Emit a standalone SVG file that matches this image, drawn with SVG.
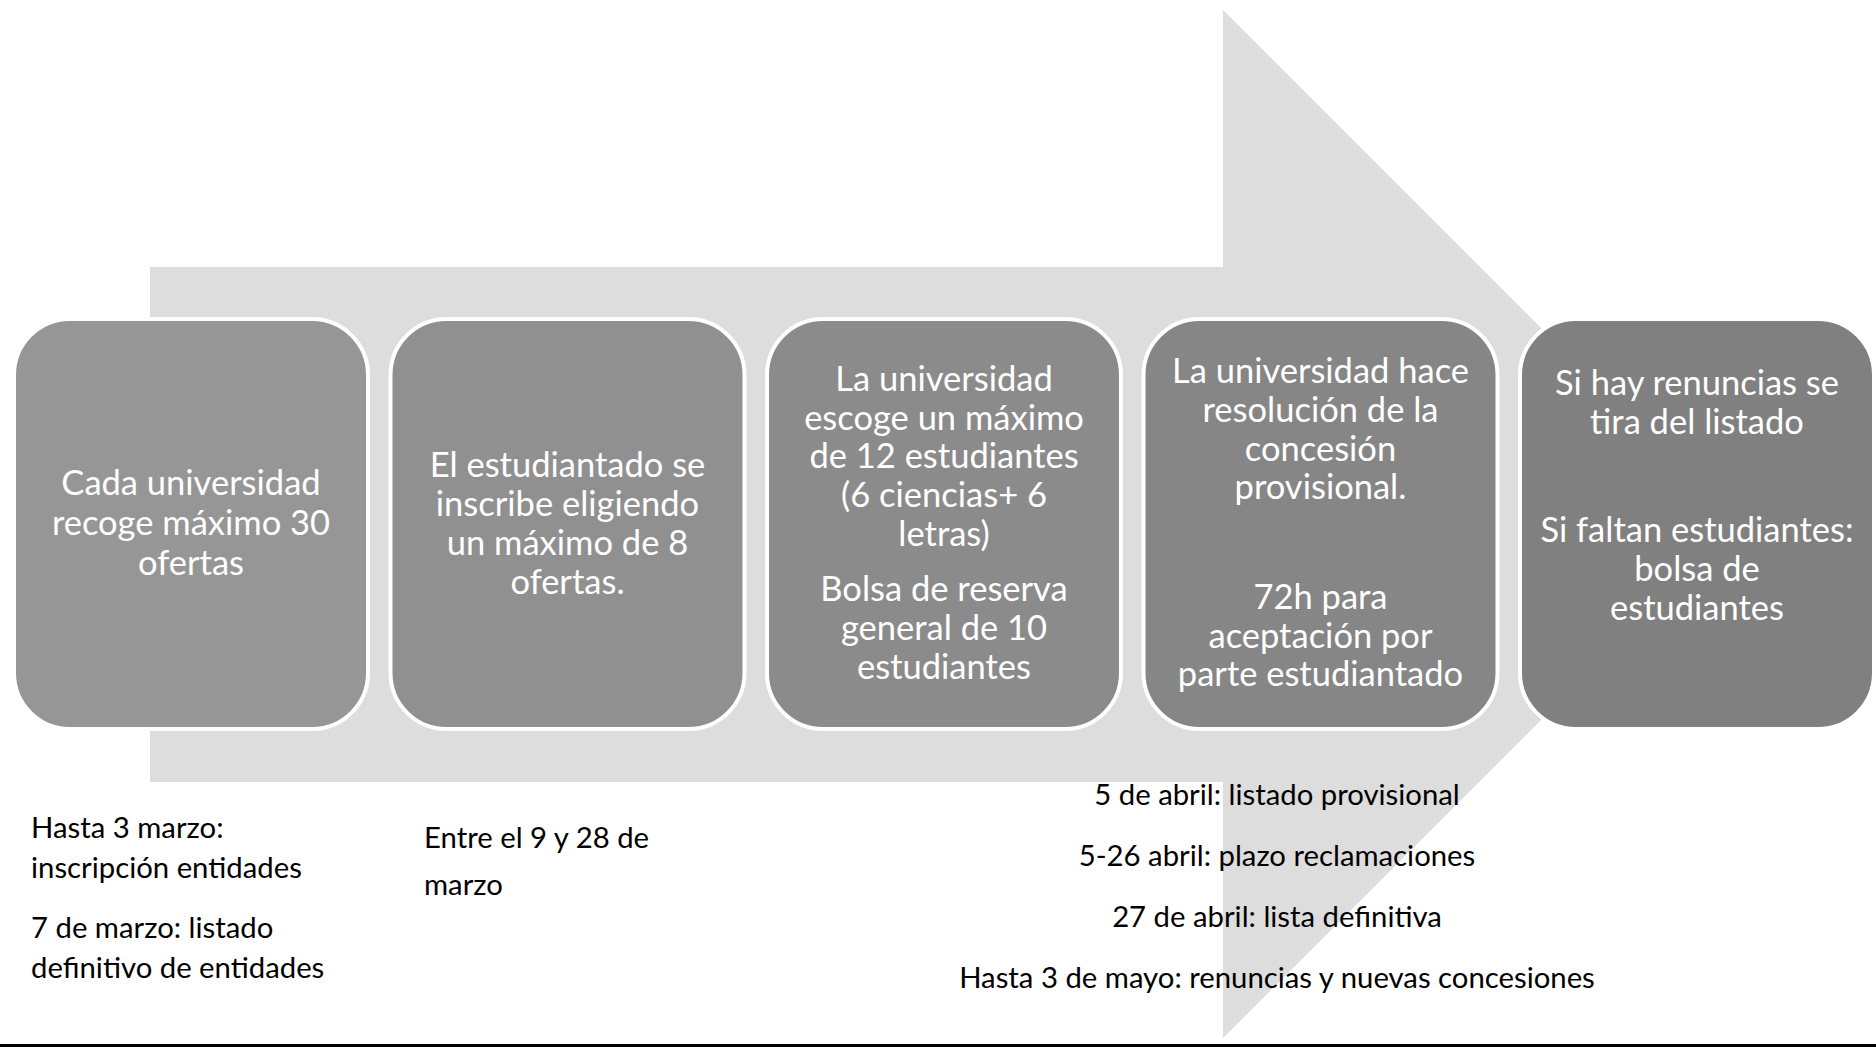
<svg xmlns="http://www.w3.org/2000/svg" width="1876" height="1049" viewBox="0 0 1876 1049">
<style>
.box{stroke:#ffffff;stroke-width:4}
.bt{font-family:Lato,"Liberation Sans",sans-serif;font-size:34.5px;fill:#ffffff;text-anchor:middle}
.lt{font-family:Lato,"Liberation Sans",sans-serif;font-size:29.3px;fill:#000000}
.ct{text-anchor:middle}
</style>
<rect x="0" y="0" width="1876" height="1049" fill="#ffffff"/>
<g id="arrow">
<polygon points="150,267 1223,267 1223,10 1737,524 1223,1038 1223,782 150,782" fill="#dddddd"/>
</g>
<g id="connectors"></g>
<g id="node1">
<rect class="box" x="14" y="319" width="354" height="410" rx="56" fill="#969696"/>
<text class="bt" x="191" y="495">Cada universidad</text>
<text class="bt" x="191" y="535">recoge máximo 30</text>
<text class="bt" x="191" y="575">ofertas</text>
</g>
<g id="node2">
<rect class="box" x="390.5" y="319" width="354" height="410" rx="56" fill="#909090"/>
<text class="bt" x="567.5" y="477">El estudiantado se</text>
<text class="bt" x="567.5" y="516">inscribe eligiendo</text>
<text class="bt" x="567.5" y="555">un máximo de 8</text>
<text class="bt" x="567.5" y="594">ofertas.</text>
</g>
<g id="node3">
<rect class="box" x="767" y="319" width="354" height="410" rx="56" fill="#8b8b8b"/>
<text class="bt" x="944" y="391">La universidad</text>
<text class="bt" x="944" y="430">escoge un máximo</text>
<text class="bt" x="944" y="468">de 12 estudiantes</text>
<text class="bt" x="944" y="507">(6 ciencias+ 6</text>
<text class="bt" x="944" y="546">letras)</text>
<text class="bt" x="944" y="601">Bolsa de reserva</text>
<text class="bt" x="944" y="640">general de 10</text>
<text class="bt" x="944" y="679">estudiantes</text>
</g>
<g id="node4">
<rect class="box" x="1143.5" y="319" width="354" height="410" rx="56" fill="#868686"/>
<text class="bt" x="1320.5" y="383">La universidad hace</text>
<text class="bt" x="1320.5" y="422">resolución de la</text>
<text class="bt" x="1320.5" y="461">concesión</text>
<text class="bt" x="1320.5" y="499">provisional.</text>
<text class="bt" x="1320.5" y="609">72h para</text>
<text class="bt" x="1320.5" y="648">aceptación por</text>
<text class="bt" x="1320.5" y="686">parte estudiantado</text>
</g>
<g id="node5">
<rect class="box" x="1520" y="319" width="354" height="410" rx="56" fill="#808080"/>
<text class="bt" x="1697" y="395">Si hay renuncias se</text>
<text class="bt" x="1697" y="434">tira del listado</text>
<text class="bt" x="1697" y="542">Si faltan estudiantes:</text>
<text class="bt" x="1697" y="581">bolsa de</text>
<text class="bt" x="1697" y="620">estudiantes</text>
</g>
<g id="notes">
<text class="lt" x="31" y="838">Hasta 3 marzo:</text>
<text class="lt" x="31" y="878">inscripción entidades</text>
<text class="lt" x="31" y="938">7 de marzo: listado</text>
<text class="lt" x="31" y="978">definitivo de entidades</text>
<text class="lt" x="424" y="848">Entre el 9 y 28 de</text>
<text class="lt" x="424" y="895">marzo</text>
<text class="lt ct" x="1277" y="805">5 de abril: listado provisional</text>
<text class="lt ct" x="1277" y="866">5-26 abril: plazo reclamaciones</text>
<text class="lt ct" x="1277" y="927">27 de abril: lista definitiva</text>
<text class="lt ct" x="1277" y="988">Hasta 3 de mayo: renuncias y nuevas concesiones</text>
</g>
<rect x="0" y="1044" width="1876" height="3" fill="#000000"/>
</svg>
